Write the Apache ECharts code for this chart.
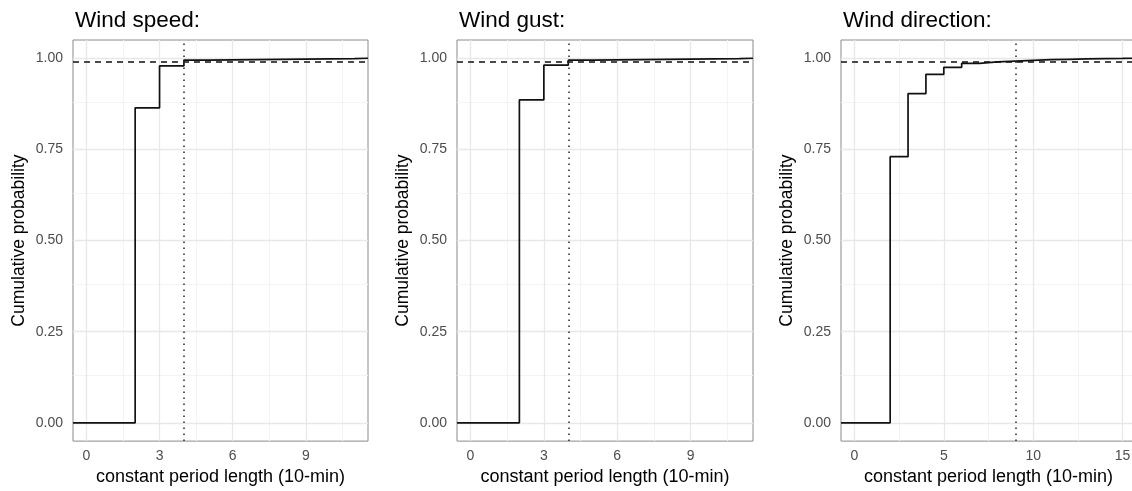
<!DOCTYPE html>
<html>
<head>
<meta charset="utf-8">
<script src="https://cdn.jsdelivr.net/npm/echarts@6/dist/echarts.min.js"></script>
<style>
html,body{margin:0;padding:0;background:#fff;overflow:hidden;}
#c{width:1140px;height:491px;}
</style>
</head>
<body>
<div id="c"></div>
<script>
// ---- data ----
const panelTitles = ['Wind speed:', 'Wind gust:', 'Wind direction:'];
const xAxisTitle = 'constant period length (10-min)';
const yAxisTitle = 'Cumulative probability';

const speedLen = [2, 3, 4, 5, 11];
const speedCum = [0.864, 0.979, 0.995, 0.999, 1.0];

const gustLen = [2, 3, 4, 5, 11];
const gustCum = [0.886, 0.981, 0.995, 0.999, 1.0];

const dirLen = [2, 3, 4, 5, 6, 7, 8, 9, 10, 11, 12, 13, 14, 15];
const dirCum = [0.730, 0.903, 0.956, 0.975, 0.986, 0.990, 0.992, 0.994, 0.996, 0.997, 0.998, 0.999, 0.9995, 1.0];

const thresholdLen = [4, 4, 9];     // dotted vertical lines
const probLevel = 0.99;             // dashed horizontal line

const xTicks12 = [0, 3, 6, 9];
const xTicks3 = [0, 5, 10, 15];
const yTicks = [0, 0.25, 0.5, 0.75, 1.0];

// ---- layout ----
const panels = [
  {len: speedLen, cum: speedCum, xTicks: xTicks12, xRange: [0, 11], left: 73, width: 295},
  {len: gustLen, cum: gustCum, xTicks: xTicks12, xRange: [0, 11], left: 457, width: 296},
  {len: dirLen, cum: dirCum, xTicks: xTicks3, xRange: [0, 15], left: 841, width: 295}
];
const TOP = 40, HEIGHT = 403;
const FONT = 'Liberation Sans, Arial, sans-serif';
const yMin = -0.05, yMax = 1.05;

function mids(t, lo, hi) {
  const step = t[1] - t[0];
  const out = [];
  for (let v = t[0] - step / 2; v <= hi; v += step) if (v >= lo) out.push(v);
  return out;
}

const option = {
  animation: false,
  backgroundColor: '#fff',
  title: [], grid: [], xAxis: [], yAxis: [], series: []
};

panels.forEach((p, i) => {
  const span = p.xRange[1] - p.xRange[0];
  const xMin = p.xRange[0] - 0.05 * span, xMax = p.xRange[1] + 0.05 * span;
  option.title.push({
    text: panelTitles[i], left: p.left - 3, top: 4,
    textStyle: {fontFamily: FONT, fontSize: 22.5, fontWeight: 'normal', color: '#000'}
  });
  option.grid.push({
    left: p.left, top: TOP, width: p.width, height: HEIGHT,
    show: true, borderColor: '#8a8a8a', borderWidth: 1, backgroundColor: '#fff'
  });
  option.xAxis.push({
    type: 'value', gridIndex: i, min: xMin, max: xMax,
    name: xAxisTitle, nameLocation: 'middle', nameGap: 25,
    nameTextStyle: {fontFamily: FONT, fontSize: 18, color: '#000'},
    axisLine: {show: false},
    axisTick: {show: true, length: 4, customValues: p.xTicks, lineStyle: {color: '#333', width: 1}},
    axisLabel: {customValues: p.xTicks, margin: 8, fontFamily: FONT, fontSize: 14, color: '#4d4d4d'},
    splitLine: {show: false}
  });
  option.yAxis.push({
    type: 'value', gridIndex: i, min: yMin, max: yMax,
    name: yAxisTitle, nameLocation: 'middle', nameGap: 45, nameRotate: 90,
    nameTextStyle: {fontFamily: FONT, fontSize: 17.5, color: '#000'},
    axisLine: {show: false},
    axisTick: {show: true, length: 4, customValues: yTicks, lineStyle: {color: '#333', width: 1}},
    axisLabel: {customValues: yTicks, margin: 10, fontFamily: FONT, fontSize: 14, color: '#4d4d4d',
      formatter: v => v.toFixed(2)},
    splitLine: {show: false}
  });
  const gridLines = [];
  mids(p.xTicks, xMin, xMax).forEach(v => gridLines.push({xAxis: v, lineStyle: {color: '#f4f4f4', width: 1, type: 'solid'}}));
  mids(yTicks, yMin, yMax).forEach(v => gridLines.push({yAxis: v, lineStyle: {color: '#f4f4f4', width: 1, type: 'solid'}}));
  p.xTicks.forEach(v => gridLines.push({xAxis: v, lineStyle: {color: '#e8e8e8', width: 1.3, type: 'solid'}}));
  yTicks.forEach(v => gridLines.push({yAxis: v, lineStyle: {color: '#e8e8e8', width: 1.3, type: 'solid'}}));
  option.series.push({
    type: 'line', xAxisIndex: i, yAxisIndex: i, data: [], z: 1, silent: true,
    markLine: {silent: true, z: 1, symbol: 'none', label: {show: false}, animation: false, data: gridLines}
  });
  const pts = [[xMin, 0]];
  p.len.forEach((x, k) => pts.push([x, p.cum[k]]));
  pts.push([xMax, p.cum[p.cum.length - 1]]);
  option.series.push({
    type: 'line', xAxisIndex: i, yAxisIndex: i, step: 'end', data: pts, z: 3,
    symbol: 'none', silent: true, clip: true,
    lineStyle: {color: '#111', width: 1.7}
  });
  option.series.push({
    type: 'line', xAxisIndex: i, yAxisIndex: i, data: [], z: 4, silent: true,
    markLine: {silent: true, z: 4, symbol: 'none', label: {show: false}, animation: false,
      data: [
        {yAxis: probLevel, lineStyle: {color: '#111', width: 1.6, type: [6, 5]}},
        {xAxis: thresholdLen[i], lineStyle: {color: '#333', width: 1.6, type: [1.5, 4.5]}}
      ]}
  });
});

const chart = echarts.init(document.getElementById('c'), null, {renderer: 'canvas'});
chart.setOption(option);
</script>
</body>
</html>
